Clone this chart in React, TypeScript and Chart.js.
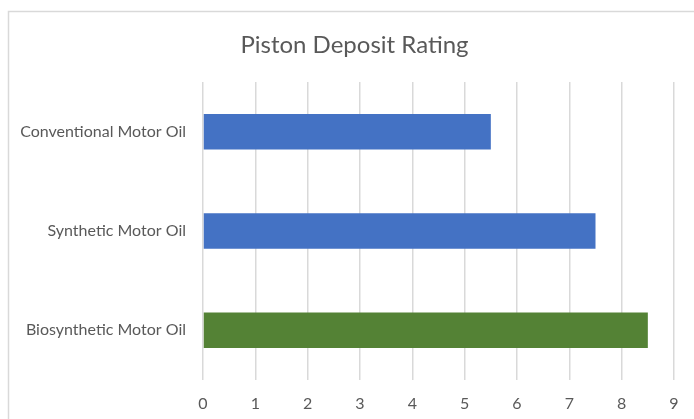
import React, { useEffect, useRef } from "react";
import { Chart, registerables } from "chart.js";

Chart.register(...registerables);

const categories = ["Conventional Motor Oil", "Synthetic Motor Oil", "Biosynthetic Motor Oil"];
const ratings = [5.5, 7.5, 8.5];
const barColors = ["#4472C4", "#4472C4", "#548235"];
const titleText = "Piston Deposit Rating";
const xMin = 0;
const xMax = 9;

const FONT = "Lato, 'Liberation Sans', sans-serif";

const framePlugin = {
  id: "frame",
  beforeDraw(chart: any) {
    const ctx = chart.ctx;
    ctx.save();
    ctx.fillStyle = "#ffffff";
    ctx.fillRect(0, 0, chart.width, chart.height);
    ctx.strokeStyle = "#d9d9d9";
    ctx.lineWidth = 1.5;
    ctx.strokeRect(8.5, 11.5, chart.width + 20, chart.height + 20);
    ctx.restore();
  },
  afterDraw(chart: any) {
    const ctx = chart.ctx;
    ctx.save();
    ctx.fillStyle = "#595959";
    ctx.font = `normal 24px ${FONT}`;
    ctx.textAlign = "center";
    ctx.textBaseline = "middle";
    ctx.fillText(titleText, 354.5, 45.4);
    ctx.restore();
  },
};

export default function App() {
  const ref = useRef<HTMLCanvasElement>(null);

  useEffect(() => {
    if (!ref.current) return;
    const chart = new Chart(ref.current, {
      type: "bar",
      data: {
        labels: categories,
        datasets: [
          {
            data: ratings,
            backgroundColor: barColors,
            borderWidth: 0,
            categoryPercentage: 1,
            barPercentage: 0.357,
          },
        ],
      },
      options: {
        indexAxis: "y",
        responsive: false,
        animation: false,
        layout: { padding: { left: 0, right: 20, top: 82, bottom: 0 } },
        plugins: {
          legend: { display: false },
          tooltip: { enabled: false },
          title: { display: false },
        },
        scales: {
          x: {
            min: xMin,
            max: xMax,
            ticks: {
              stepSize: 1,
              color: "#595959",
              font: { family: FONT, size: 16 },
              padding: 14,
            },
            grid: { color: "#d9d9d9", lineWidth: 1.5, drawTicks: false },
            border: { display: false },
            afterFit: (scale: any) => {
              scale.height = 39;
            },
          },
          y: {
            ticks: {
              color: "#595959",
              font: { family: FONT, size: 16 },
              padding: 17,
            },
            grid: { display: false, drawTicks: false },
            border: { display: false },
            afterFit: (scale: any) => {
              scale.width = 203;
            },
          },
        },
      },
      plugins: [framePlugin],
    } as any);
    return () => chart.destroy();
  }, []);

  return (
    <div style={{ position: "absolute", left: 0, top: 0, width: 694, height: 419 }}>
      <canvas ref={ref} width={694} height={419} />
    </div>
  );
}
